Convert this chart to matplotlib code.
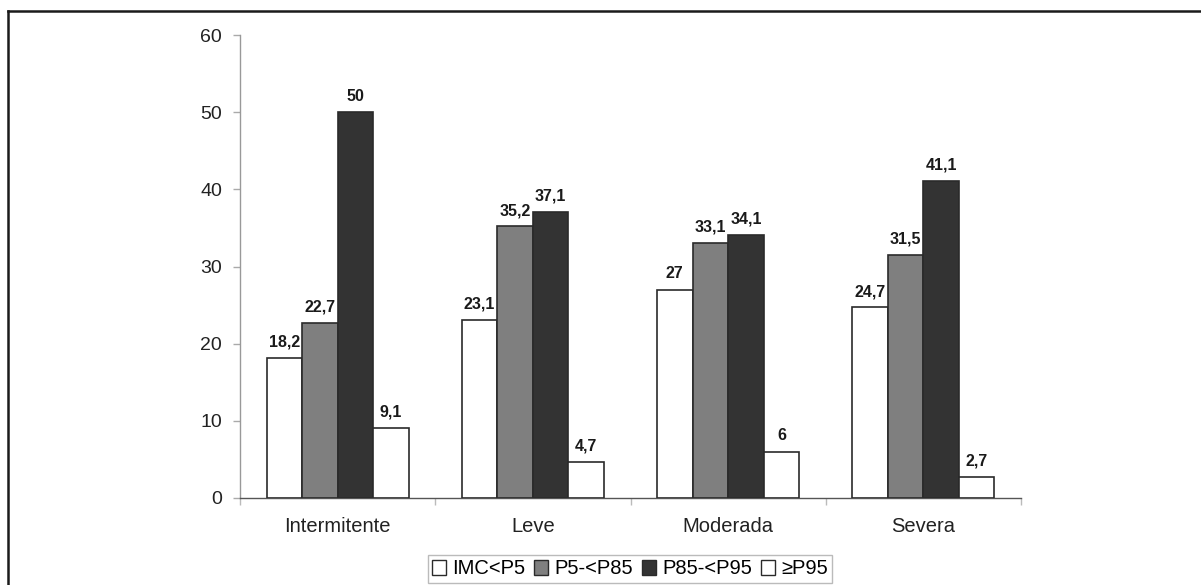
import matplotlib
matplotlib.use("Agg")
import matplotlib.pyplot as plt
import numpy as np
from matplotlib.lines import Line2D

plt.rcParams['font.family'] = ['Liberation Sans', 'DejaVu Sans']

categories = ["Intermitente", "Leve", "Moderada", "Severa"]
series_names = ["IMC<P5", "P5-<P85", "P85-<P95", "≥P95"]
imc_p5 = [18.2, 23.1, 27, 24.7]
p5_p85 = [22.7, 35.2, 33.1, 31.5]
p85_p95 = [50, 37.1, 34.1, 41.1]
ge_p95 = [9.1, 4.7, 6, 2.7]
label_imc_p5 = ["18,2", "23,1", "27", "24,7"]
label_p5_p85 = ["22,7", "35,2", "33,1", "31,5"]
label_p85_p95 = ["50", "37,1", "34,1", "41,1"]
label_ge_p95 = ["9,1", "4,7", "6", "2,7"]
yticks = [0, 10, 20, 30, 40, 50, 60]

series = [imc_p5, p5_p85, p85_p95, ge_p95]
labels = [label_imc_p5, label_p5_p85, label_p85_p95, label_ge_p95]
colors = ["#ffffff", "#7f7f7f", "#333333", "#ffffff"]

fig = plt.figure(figsize=(12.01, 5.85), dpi=100)
ax = fig.add_axes([240/1201, 1-498/585, (1021-240)/1201, (498-35)/585])

x = np.arange(len(categories))
w = 0.182
handles = []
for i, (vals, lab, c) in enumerate(zip(series, labels, colors)):
    pos = x + (i - 1.5) * w
    bars = ax.bar(pos, vals, width=w, color=c, edgecolor="#2a2a2a", linewidth=1.2, zorder=3)
    for b, t in zip(bars, lab):
        ax.annotate(t, (b.get_x() + b.get_width()/2, b.get_height()), xytext=(0, 6),
                    textcoords="offset points", ha="center", va="bottom",
                    fontsize=11.5, fontweight="bold", color="#1a1a1a")
    handles.append(plt.Rectangle((0, 0), 1, 1, facecolor=c, edgecolor="#2a2a2a", linewidth=1.0))

ax.set_xlim(-0.5, len(categories) - 0.5)
ax.set_ylim(0, 60)
ax.set_yticks(yticks)
ax.set_yticklabels([str(v) for v in yticks], fontsize=14, color="#222222")
ax.set_xticks(x)
ax.set_xticklabels(categories, fontsize=14.5, color="#222222")
ax.tick_params(axis='x', length=0, pad=14)
ax.tick_params(axis='y', length=5, color="#aaaaaa", width=1, pad=8)
ax.set_xticks(np.arange(-0.5, len(categories)), minor=True)
ax.tick_params(axis='x', which='minor', length=5, color="#bbbbbb", width=1)
for s in ["top", "right"]:
    ax.spines[s].set_visible(False)
for s in ["left", "bottom"]:
    ax.spines[s].set_color("#999999")
    ax.spines[s].set_linewidth(1.0)
ax.spines["bottom"].set_color("#555555")

leg = fig.legend(handles, series_names, loc="center", bbox_to_anchor=(630/1201, 1-569/585),
                 ncol=4, frameon=True, fontsize=14.5, handlelength=0.7, handleheight=0.7,
                 handletextpad=0.3, columnspacing=0.45, borderpad=0.2, borderaxespad=0,
                 fancybox=False)
leg.get_frame().set_edgecolor("#aaaaaa")
leg.get_frame().set_linewidth(1.0)

# outer frame (left and top edges visible)
fig.add_artist(Line2D([8/1201, 8/1201], [0, 1-11/585], transform=fig.transFigure, color="#1a1a1a", linewidth=1.8))
fig.add_artist(Line2D([8/1201, 1], [1-11/585, 1-11/585], transform=fig.transFigure, color="#1a1a1a", linewidth=1.8))

fig.savefig("out.png", dpi=100)
